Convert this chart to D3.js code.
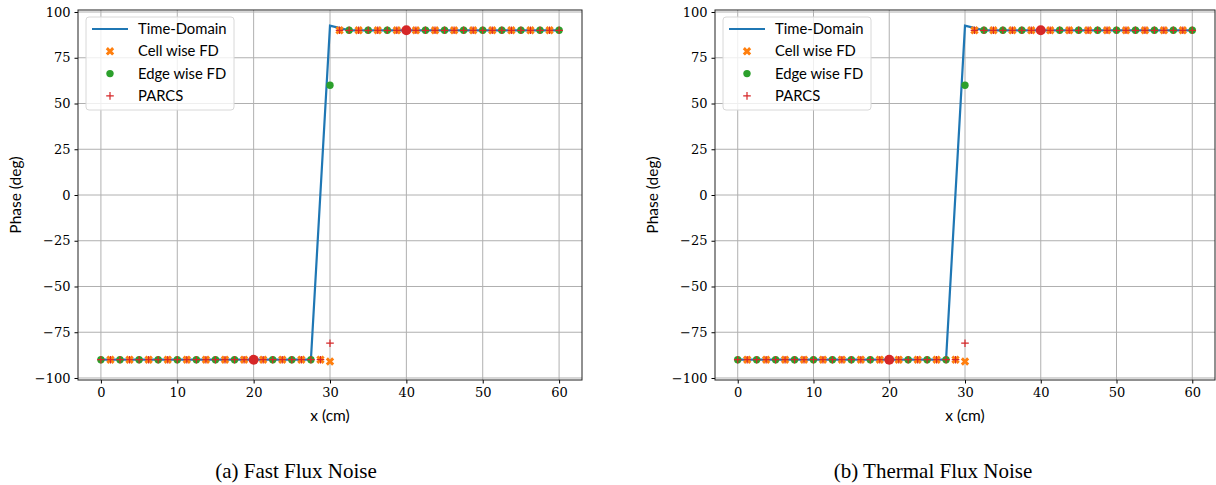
<!DOCTYPE html>
<html>
<head>
<meta charset="utf-8">
<script src="https://cdn.jsdelivr.net/npm/d3@7"></script>
<style>
  html, body { margin: 0; padding: 0; background: #fff; }
  svg { display: block; }
  .tick text { font-family: "DejaVu Serif", "Liberation Serif", serif; font-size: 13px; fill: #000; }
</style>
</head>
<body>
<svg id="chart" width="1216" height="485"></svg>
<script>
// Time-domain reference solution (node positions, cm) and phase (deg)
const tdX = [0, 2.5, 5, 7.5, 10, 12.5, 15, 17.5, 20, 22.5, 25, 27.5, 30,
             32.5, 35, 37.5, 40, 42.5, 45, 47.5, 50, 52.5, 55, 57.5, 60];
const tdPhase = [-90, -90, -90, -90, -90, -90, -90, -90, -90, -90, -90, -90, 92.5,
                 90, 90, 90, 90, 90, 90, 90, 90, 90, 90, 90, 90];

// Cell-wise frequency-domain solution
const cellX = [1.25, 3.75, 6.25, 8.75, 11.25, 13.75, 16.25, 18.75, 21.25, 23.75, 26.25, 28.75, 30,
               31.25, 33.75, 36.25, 38.75, 41.25, 43.75, 46.25, 48.75, 51.25, 53.75, 56.25, 58.75];
const cellPhase = [-90, -90, -90, -90, -90, -90, -90, -90, -90, -90, -90, -90, -91,
                   90, 90, 90, 90, 90, 90, 90, 90, 90, 90, 90, 90];

// Edge-wise frequency-domain solution
const edgeX = [0, 2.5, 5, 7.5, 10, 12.5, 15, 17.5, 20, 22.5, 25, 27.5, 30,
               32.5, 35, 37.5, 40, 42.5, 45, 47.5, 50, 52.5, 55, 57.5, 60];
const edgePhase = [-90, -90, -90, -90, -90, -90, -90, -90, -90, -90, -90, -90, 60,
                   90, 90, 90, 90, 90, 90, 90, 90, 90, 90, 90, 90];

// PARCS solution
const parcsX = [0, 1.25, 2.5, 3.75, 5, 6.25, 7.5, 8.75, 10, 11.25, 12.5, 13.75, 15, 16.25, 17.5, 18.75,
                20, 21.25, 22.5, 23.75, 25, 26.25, 27.5, 28.75, 30,
                31.25, 32.5, 33.75, 35, 36.25, 37.5, 38.75, 40, 41.25, 42.5, 43.75, 45, 46.25, 47.5, 48.75,
                50, 51.25, 52.5, 53.75, 55, 56.25, 57.5, 58.75, 60];
const parcsPhase = [-90, -90, -90, -90, -90, -90, -90, -90, -90, -90, -90, -90, -90, -90, -90, -90,
                    -90, -90, -90, -90, -90, -90, -90, -90, -81,
                    90, 90, 90, 90, 90, 90, 90, 90, 90, 90, 90, 90, 90, 90, 90,
                    90, 90, 90, 90, 90, 90, 90, 90, 90];

// Noise source / detector positions
const sourceX = [20, 40];
const sourcePhase = [-90, 90];

const xTicks = [0, 10, 20, 30, 40, 50, 60];
const yTicks = [-100, -75, -50, -25, 0, 25, 50, 75, 100];
const legendLabels = ["Time-Domain", "Cell wise FD", "Edge wise FD", "PARCS"];
const panelCaptions = ["(a) Fast Flux Noise", "(b) Thermal Flux Noise"];

const C = { blue: "#1f77b4", orange: "#ff7f0e", green: "#2ca02c", red: "#d62728" };
const SANS = "Lato, 'DejaVu Sans', sans-serif";

const svg = d3.select("#chart");

function zip(xs, ys) { return xs.map((x, i) => ({ x, y: ys[i] })); }

function panel(left, right, caption, captionX) {
  const top = 10, bottom = 380;
  const x = d3.scaleLinear().domain([-3, 63]).range([left, right]);
  const y = d3.scaleLinear().domain([-101.1, 101.1]).range([bottom, top]);
  const g = svg.append("g");

  // grid
  g.append("g").selectAll("line").data(xTicks).join("line")
    .attr("x1", d => x(d)).attr("x2", d => x(d)).attr("y1", top).attr("y2", bottom)
    .attr("stroke", "#b0b0b0").attr("stroke-width", 1);
  g.append("g").selectAll("line").data(yTicks).join("line")
    .attr("y1", d => y(d)).attr("y2", d => y(d)).attr("x1", left).attr("x2", right)
    .attr("stroke", "#b0b0b0").attr("stroke-width", 1);

  // axes
  const fmt = d => (d < 0 ? "\u2212" + Math.abs(d) : String(d));
  const ax = g.append("g").attr("transform", `translate(0,${bottom})`)
    .call(d3.axisBottom(x).tickValues(xTicks).tickFormat(fmt).tickSize(3.5).tickPadding(4));
  const ay = g.append("g").attr("transform", `translate(${left},0)`)
    .call(d3.axisLeft(y).tickValues(yTicks).tickFormat(fmt).tickSize(3.5).tickPadding(4));
  [ax, ay].forEach(a => { a.select(".domain").remove(); a.selectAll(".tick line").attr("stroke", "#000"); });

  g.append("rect").attr("x", left).attr("y", top).attr("width", right - left).attr("height", bottom - top)
    .attr("fill", "none").attr("stroke", "#222").attr("stroke-width", 1);

  const plot = g.append("g");

  // time-domain line
  plot.append("path").datum(zip(tdX, tdPhase))
    .attr("d", d3.line().x(d => x(d.x)).y(d => y(d.y)))
    .attr("fill", "none").attr("stroke", C.blue).attr("stroke-width", 2.2);

  // cell-wise FD: filled X markers
  const xSym = d3.symbol().type(d3.symbolCross).size(44);
  plot.append("g").selectAll("path").data(zip(cellX, cellPhase)).join("path")
    .attr("d", xSym).attr("fill", C.orange)
    .attr("transform", d => `translate(${x(d.x)},${y(d.y)}) rotate(45)`);

  // edge-wise FD: dots
  plot.append("g").selectAll("circle").data(zip(edgeX, edgePhase)).join("circle")
    .attr("cx", d => x(d.x)).attr("cy", d => y(d.y)).attr("r", 3.7).attr("fill", C.green);

  // source markers
  plot.append("g").selectAll("circle").data(zip(sourceX, sourcePhase)).join("circle")
    .attr("cx", d => x(d.x)).attr("cy", d => y(d.y)).attr("r", 5).attr("fill", C.red);

  // PARCS: plus markers
  plot.append("g").selectAll("path").data(zip(parcsX, parcsPhase)).join("path")
    .attr("d", d => `M${x(d.x) - 3.8},${y(d.y)}h7.6M${x(d.x)},${y(d.y) - 3.8}v7.6`)
    .attr("stroke", C.red).attr("stroke-width", 1.2).attr("fill", "none");

  // legend
  const lx = left + 8, ly = top + 7;
  const lg = g.append("g");
  lg.append("rect").attr("x", lx).attr("y", ly).attr("width", 148).attr("height", 93).attr("rx", 3)
    .attr("fill", "rgba(255,255,255,0.8)").attr("stroke", "#d8d8d8").attr("stroke-width", 1);
  const rows = [0, 1, 2, 3].map(i => ly + 12 + i * 22.3);
  lg.append("line").attr("x1", lx + 6).attr("x2", lx + 42).attr("y1", rows[0]).attr("y2", rows[0])
    .attr("stroke", C.blue).attr("stroke-width", 2.2);
  lg.append("path").attr("d", xSym).attr("fill", C.orange)
    .attr("transform", `translate(${lx + 24},${rows[1]}) rotate(45)`);
  lg.append("circle").attr("cx", lx + 24).attr("cy", rows[2]).attr("r", 3.7).attr("fill", C.green);
  lg.append("path").attr("d", `M${lx + 20.2},${rows[3]}h7.6M${lx + 24},${rows[3] - 3.8}v7.6`)
    .attr("stroke", C.red).attr("stroke-width", 1.2);
  lg.selectAll("text").data(legendLabels).join("text")
    .attr("x", lx + 52).attr("y", (d, i) => rows[i]).attr("dy", "0.35em")
    .attr("font-family", SANS).attr("font-size", 14.8).text(d => d);

  // axis titles
  g.append("text").attr("x", (left + right) / 2).attr("y", 421).attr("text-anchor", "middle")
    .attr("font-family", SANS).attr("font-size", 15.5).text("x (cm)");
  g.append("text").attr("transform", `translate(${left - 57},${(top + bottom) / 2}) rotate(-90)`)
    .attr("text-anchor", "middle").attr("font-family", SANS)
    .attr("font-size", 15.5).text("Phase (deg)");

  // caption
  g.append("text").attr("x", captionX).attr("y", 478).attr("text-anchor", "middle")
    .attr("font-family", "'Liberation Serif', serif").attr("font-size", 21).text(caption);
}

panel(78, 582, panelCaptions[0], 296);
panel(715, 1215, panelCaptions[1], 933);
</script>
</body>
</html>
